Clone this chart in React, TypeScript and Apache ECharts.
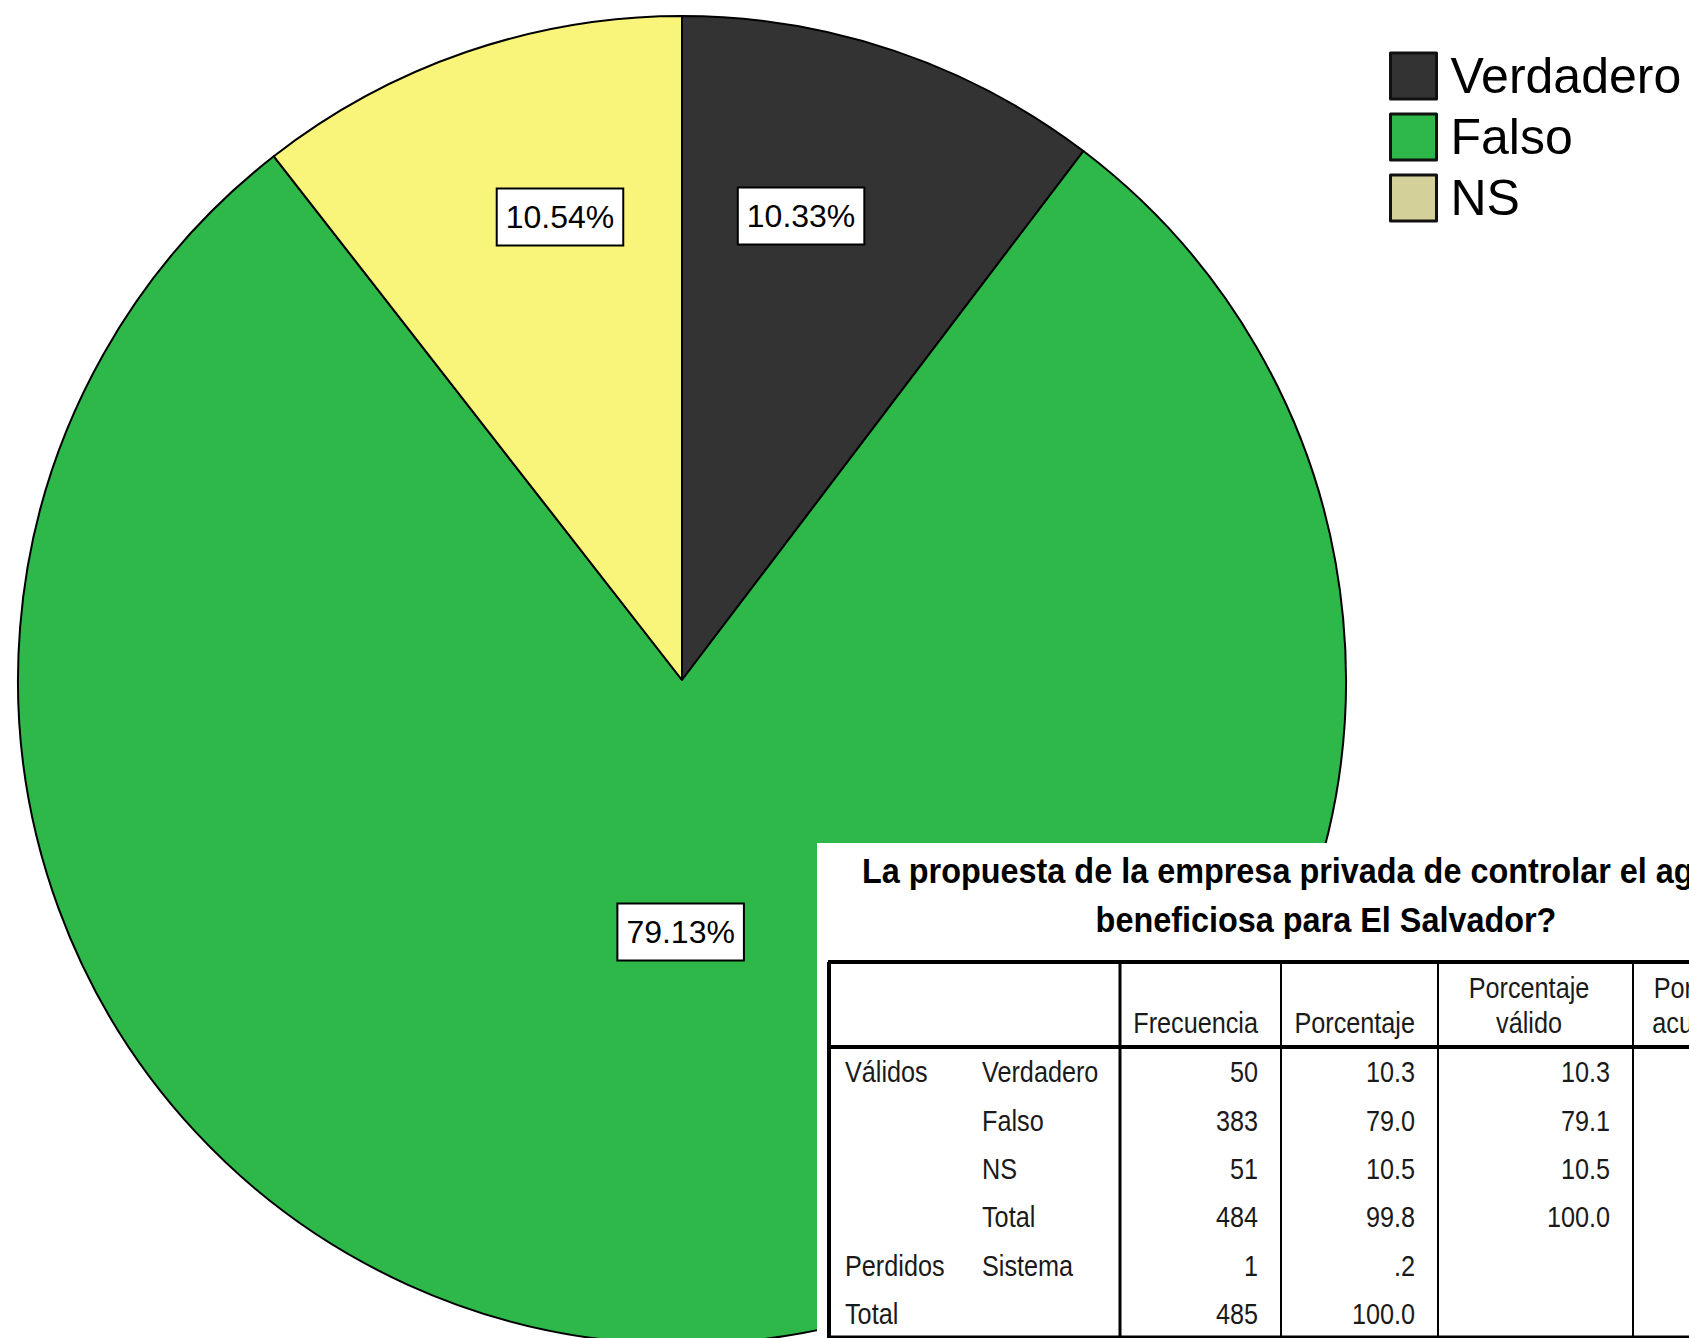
import React, { useEffect, useRef } from "react";
import * as echarts from "echarts";

// ---- data ----
const categories = ["Verdadero", "Falso", "NS"];
const frequencies = [50, 383, 51];
const sliceColors = ["#333333", "#2EB84A", "#F9F57A"];
const legendColors = ["#333333", "#2EB84A", "#D4D09A"];

const tableTitle = [
  "La propuesta de la empresa privada de controlar el agua es",
  "beneficiosa para El Salvador?",
];
const headerFrecuencia = "Frecuencia";
const headerPorcentaje = "Porcentaje";
const headerValido = ["Porcentaje", "válido"];
const headerAcumulado = ["Porcentaje", "acumulado"];
const rowGroups = ["Válidos", "", "", "", "Perdidos", "Total"];
const rowLabels = ["Verdadero", "Falso", "NS", "Total", "Sistema", ""];
const frecuencia = ["50", "383", "51", "484", "1", "485"];
const porcentaje = ["10.3", "79.0", "10.5", "99.8", ".2", "100.0"];
const porcentajeValido = ["10.3", "79.1", "10.5", "100.0", "", ""];

// ---- styles ----
const SANS = "'Liberation Sans', Arial, sans-serif";
const Z = 100;

function txt(
  x: number,
  y: number,
  text: string,
  align: string,
  size: number,
  weight = "normal",
  color = "#1a1a1a",
  sx = 0.87
) {
  return {
    type: "text",
    z: Z,
    x,
    y,
    scaleX: sx,
    style: {
      text,
      x: 0,
      y: 0,
      fill: color,
      font: `${weight} ${size}px ${SANS}`,
      align,
      verticalAlign: "middle",
      textAlign: align,
      textVerticalAlign: "middle",
    },
  };
}
function ln(x1: number, y1: number, x2: number, y2: number, w: number) {
  return { type: "line", z: Z, shape: { x1, y1, x2, y2 }, style: { stroke: "#000", lineWidth: w } };
}

export default function App() {
  const ref = useRef<HTMLDivElement>(null);
  useEffect(() => {
    if (!ref.current) return;
    const chart = echarts.init(ref.current, undefined, { renderer: "svg" });

    const center = [682, 680];
    const R = 664;

    const labelStyle = {
      show: true,
      position: "inside",
      formatter: "{d}%",
      fontFamily: SANS,
      fontSize: 32,
      lineHeight: 36,
      color: "#000",
      backgroundColor: "#fff",
      borderColor: "#000",
      borderWidth: 2,
      padding: [10, 8, 9, 8],
    };

    // table geometry
    const colX = [829, 1120, 1281, 1438, 1633, 1823];
    const top = 962;
    const headBottom = 1047;
    const bottom = 1337;
    const rowY0 = 1072;
    const rowStep = 48.4;
    const fs = 29;

    const g: any[] = [];
    g.push({ type: "rect", z: Z - 1, shape: { x: 817, y: 843, width: 900, height: 520 }, style: { fill: "#fff" } });
    g.push(txt(862, 870, tableTitle[0], "left", 36, "bold", "#000", 0.9));
    g.push(txt(1326, 919, tableTitle[1], "center", 36, "bold", "#000", 0.9));
    // borders
    g.push(ln(colX[0] - 1, top, colX[5], top, 4));
    g.push(ln(colX[0], top, colX[0], bottom + 2, 4));
    g.push(ln(colX[0], headBottom, colX[5], headBottom, 4));
    g.push(ln(colX[1], top, colX[1], bottom + 2, 3));
    for (let i = 2; i < 5; i++) g.push(ln(colX[i], top, colX[i], bottom + 2, 2));
    g.push(ln(colX[0], bottom, colX[5], bottom, 3));
    // headers
    g.push(txt(1258, 1023, headerFrecuencia, "right", fs));
    g.push(txt(1415, 1023, headerPorcentaje, "right", fs));
    g.push(txt(1529, 988, headerValido[0], "center", fs));
    g.push(txt(1529, 1023, headerValido[1], "center", fs));
    g.push(txt(1714, 988, headerAcumulado[0], "center", fs));
    g.push(txt(1714, 1023, headerAcumulado[1], "center", fs));
    // rows
    rowLabels.forEach((_, i) => {
      const y = rowY0 + i * rowStep;
      if (rowGroups[i]) g.push(txt(845, y, rowGroups[i], "left", fs));
      if (rowLabels[i]) g.push(txt(982, y, rowLabels[i], "left", fs));
      if (frecuencia[i]) g.push(txt(1258, y, frecuencia[i], "right", fs));
      if (porcentaje[i]) g.push(txt(1415, y, porcentaje[i], "right", fs));
      if (porcentajeValido[i]) g.push(txt(1610, y, porcentajeValido[i], "right", fs));
    });

    const labelDx = [-34, 0, 34];
    const labelDy = [-9, 0, -9];

    chart.setOption({
      animation: false,
      backgroundColor: "#fff",
      legend: {
        orient: "vertical",
        left: 1384,
        top: 46,
        itemWidth: 46,
        itemHeight: 46,
        itemGap: 11,
        icon: "rect",
        selectedMode: false,
        data: categories.map((c, i) => ({ name: c, itemStyle: { color: legendColors[i] } })),
        itemStyle: { borderColor: "#111", borderWidth: 3 },
        textStyle: {
          fontFamily: SANS,
          fontSize: 50,
          lineHeight: 46,
          color: "#000",
          padding: [0, 0, 0, 9],
        },
      },
      series: [
        {
          type: "pie",
          center,
          radius: R,
          startAngle: 90,
          clockwise: true,
          silent: true,
          label: { show: false },
          labelLine: { show: false },
          itemStyle: { borderColor: "#000", borderWidth: 2 },
          data: categories.map((c, i) => ({ name: c, value: frequencies[i], itemStyle: { color: sliceColors[i] } })),
        },
        {
          type: "pie",
          center,
          radius: [290, R],
          startAngle: 90,
          silent: true,
          z: 5,
          itemStyle: { color: "rgba(0,0,0,0)", borderWidth: 0 },
          labelLine: { show: false },
          label: labelStyle,
          labelLayout: (p: any) => ({ dx: labelDx[p.dataIndex], dy: labelDy[p.dataIndex] }),
          data: categories.map((c, i) => ({ name: c, value: frequencies[i], label: { show: i !== 1 } })),
        },
        {
          type: "pie",
          center,
          radius: [0, 504],
          startAngle: 90,
          silent: true,
          z: 5,
          itemStyle: { color: "rgba(0,0,0,0)", borderWidth: 0 },
          labelLine: { show: false },
          label: labelStyle,
          labelLayout: () => ({ dx: -3, dy: -3 }),
          data: categories.map((c, i) => ({ name: c, value: frequencies[i], label: { show: i === 1 } })),
        },
      ],
      graphic: { elements: g },
    });
    return () => chart.dispose();
  }, []);
  return <div ref={ref} style={{ position: "fixed", left: 0, top: 0, width: 1689, height: 1338 }} />;
}
